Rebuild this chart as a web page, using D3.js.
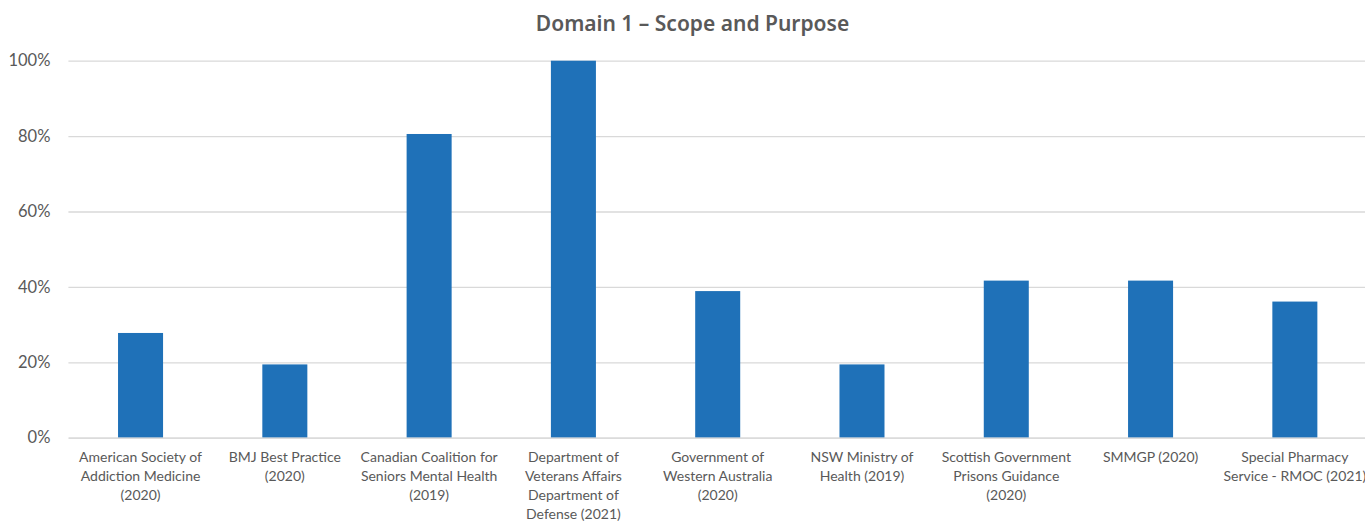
<!DOCTYPE html>
<html><head><meta charset="utf-8">
<script src="https://cdn.jsdelivr.net/npm/d3@7"></script>
<style>body{margin:0;background:#fff;overflow:hidden}svg{display:block}</style>
</head><body>
<svg id="c" width="1365" height="521"></svg>
<script>
const categories = [
  ["American Society of","Addiction Medicine","(2020)"],
  ["BMJ Best Practice","(2020)"],
  ["Canadian Coalition for","Seniors Mental Health","(2019)"],
  ["Department of","Veterans Affairs","Department of","Defense (2021)"],
  ["Government of","Western Australia","(2020)"],
  ["NSW Ministry of","Health (2019)"],
  ["Scottish Government","Prisons Guidance","(2020)"],
  ["SMMGP (2020)"],
  ["Special Pharmacy","Service - RMOC (2021)"]
];
const values = [27.78, 19.44, 80.56, 100, 38.89, 19.44, 41.67, 41.67, 36.11];
const yTicks = [0, 20, 40, 60, 80, 100];
const title = "Domain 1 \u2013 Scope and Purpose";

(function(){
const svg = d3.select("#c");
const mLeft = 68.4, mRight = 1367, mTop = 60.7, mBottom = 437.7;
const font = "Lato, 'Open Sans', sans-serif";
const x = d3.scaleBand().domain(d3.range(values.length)).range([mLeft, mRight]).paddingInner(0.688).paddingOuter(0.344);
const y = d3.scaleLinear().domain([0, 100]).range([mBottom, mTop]);

svg.append("text").attr("x", 692.5).attr("y", 31).attr("text-anchor", "middle")
  .attr("font-family", "'Noto Sans', 'Open Sans', sans-serif").attr("font-weight", "600")
  .attr("font-size", 21).attr("fill", "#595959").text(title);

const yAxis = d3.axisLeft(y).tickValues(yTicks).tickFormat(d => d + "%").tickSize(-(mRight - mLeft)).tickPadding(18);
const gy = svg.append("g").attr("transform", `translate(${mLeft},0)`).call(yAxis);
gy.select(".domain").remove();
gy.selectAll("line").attr("stroke", "#d9d9d9").attr("stroke-width", 1.3);
gy.selectAll("text").attr("font-family", font).attr("font-size", 16.5).attr("fill", "#595959");

svg.append("g").selectAll("rect").data(values).join("rect")
  .attr("x", (d, i) => x(i)).attr("width", x.bandwidth())
  .attr("y", d => y(d)).attr("height", d => mBottom - y(d))
  .attr("fill", "#1f71b8");

const xAxis = d3.axisBottom(x).tickSize(0).tickFormat("");
const gx = svg.append("g").attr("transform", `translate(0,${mBottom})`).call(xAxis);
gx.select(".domain").attr("stroke", "#d9d9d9").attr("stroke-width", 1.3);
gx.selectAll(".tick").each(function(i) {
  const t = d3.select(this).append("text").attr("text-anchor", "middle")
    .attr("font-family", font).attr("font-size", 14).attr("fill", "#595959");
  categories[i].forEach((line, k) => {
    t.append("tspan").attr("x", 0).attr("y", 24 + k * 19).text(line);
  });
});
})();
</script>
</body></html>
